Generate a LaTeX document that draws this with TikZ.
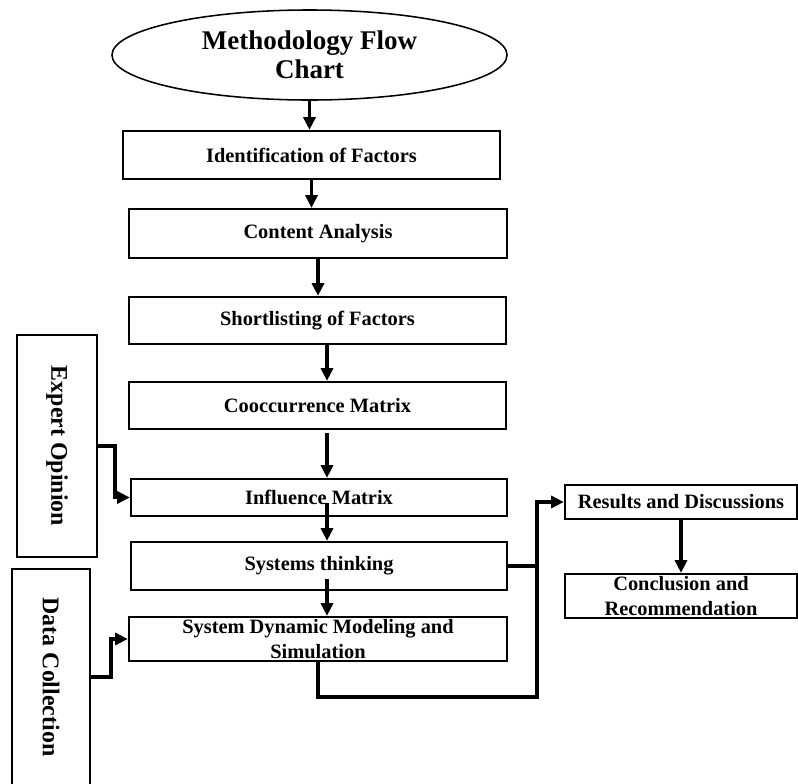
\documentclass[tikz,border=0pt]{standalone}
\usepackage{fontspec}
\setmainfont{Liberation Serif}
\usetikzlibrary{shapes.geometric, arrows.meta, positioning}

\begin{document}
\begin{tikzpicture}[x=0.025cm, y=-0.025cm,
    titlenode/.style={ellipse, draw, line width=1.1pt, inner sep=0pt, align=center, font=\bfseries\fontsize{19.2}{20.6}\selectfont},
    block/.style={rectangle, draw, line width=1.6pt, inner sep=0pt, align=center, font=\bfseries\fontsize{14.5}{17.5}\selectfont},
    sidebox/.style={rectangle, draw, line width=1.6pt, inner sep=0pt, rotate=-90, font=\bfseries\fontsize{17}{20}\selectfont},
    line/.style={draw, line width=2.4pt, -{Triangle[length=9pt, width=8.5pt]}},
    link/.style={draw, line width=2.4pt}]

    \useasboundingbox (0,0) rectangle (798,784);

    % main column
    \node [titlenode, minimum width=9.875cm, minimum height=2.25cm] (title) at (309.5,55) {Methodology Flow\\Chart};
    \node [block, minimum width=9.425cm, minimum height=1.2cm] (ident) at (311.5,155) {Identification of Factors};
    \node [block, minimum width=9.45cm, minimum height=1.225cm] (content) at (318,233.5) {Content Analysis};
    \node [block, minimum width=9.425cm, minimum height=1.175cm] (short) at (317.5,320.5) {Shortlisting of Factors};
    \node [block, minimum width=9.425cm, minimum height=1.175cm] (cooc) at (317.5,405.5) {Cooccurrence Matrix};
    \node [block, minimum width=9.4cm, minimum height=0.925cm] (infl) at (319,497.5) {Influence Matrix};
    \node [block, minimum width=9.4cm, minimum height=1.2cm] (sys) at (319,566) {Systems thinking};
    \node [block, minimum width=9.45cm, minimum height=1.1cm] (sdm) at (318,639) {System Dynamic Modeling and\\Simulation};

    % right branch
    \node [block, minimum width=5.8cm, minimum height=0.85cm] (results) at (681,502) {Results and Discussions};
    \node [block, minimum width=5.8cm, minimum height=1.1cm] (concl) at (681,596) {Conclusion and\\Recommendation};

    % inputs on the left
    \node [sidebox, minimum width=5.55cm, minimum height=2cm] (expert) at (57,446) {Expert Opinion};
    \node [sidebox, minimum width=5.4cm, minimum height=1.95cm] (data) at (51,677) {Data Collection};

    \coordinate (spine) at (327,0);
    \coordinate (cooc out) at (327,433);
    \coordinate (infl out) at (327,503);
    \coordinate (sys out) at (327,579);
    \coordinate (join) at (537,697);

    \path [line] (title.south) -- (title.south |- ident.north);
    \path [line] (ident.south) -- (ident.south |- content.north);
    \path [line] (content.south) -- (content.south |- short.north);
    \path [line] (short.south -| spine) -- (cooc.north -| spine);
    \path [line] (cooc out) -- (cooc out |- infl.north);
    \path [line] (infl out) -- (infl out |- sys.north);
    \path [line] (sys out) -- (sys out |- sdm.north);

    \path [line] (expert.north) -- ++(17,0) |- (infl.west);
    \path [line] (data.north) -- ++(20,0) |- (sdm.west);

    \path [line] (sdm.south) |- (join) |- (results.west);
    \path [link] (sys.east) -- (sys.east -| join);
    \path [line] (results.south) -- (concl.north);
\end{tikzpicture}
\end{document}
